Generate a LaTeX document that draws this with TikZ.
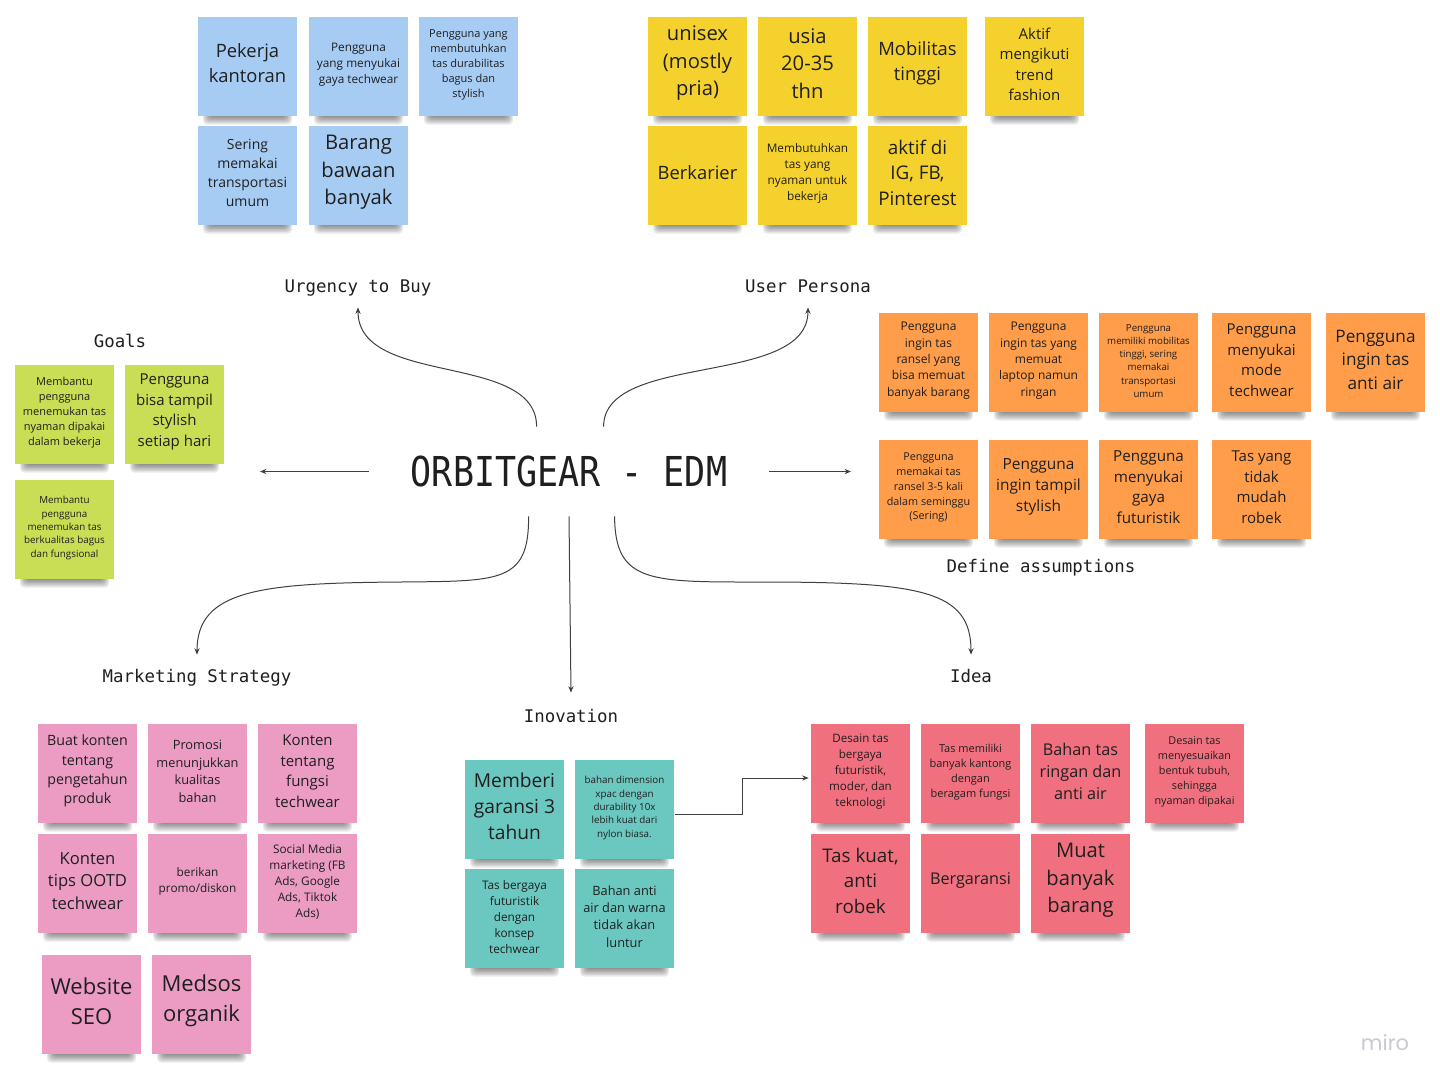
\documentclass[tikz,border=0pt]{standalone}
\usepackage{fontspec}
\usepackage{graphicx}
\setmainfont{Open Sans}
\newfontfamily\monof{DejaVu Sans Mono}
\newfontfamily\logof{Poppins}
\usetikzlibrary{arrows.meta,calc}
\definecolor{stblue}{HTML}{A7CCF4}
\definecolor{styellow}{HTML}{F5D12E}
\definecolor{stgreen}{HTML}{C9DE55}
\definecolor{storange}{HTML}{FF9D4A}
\definecolor{stpink}{HTML}{EC9CC3}
\definecolor{stteal}{HTML}{6BC8C1}
\definecolor{stred}{HTML}{F1707F}
\definecolor{txt}{HTML}{1F1F1F}
\definecolor{miro}{HTML}{C9C9D6}
\tikzset{
  sticky/.style={minimum width=49.5pt,minimum height=49.5pt,inner sep=0pt},
  stext/.style={inner sep=0pt,align=center,text=txt},
  lbl/.style={font=\monof\fontsize{8.7}{10}\selectfont,inner sep=0pt,text height=6.5pt,text depth=2pt,text=txt},
  conn/.style={draw=black!75,line width=0.5pt,-{Stealth[length=3.2pt,width=2.6pt]}},
  stshadow/.style={fill=black,opacity=0.085,rounded corners=2pt}
}
% #1 name, #2 left, #3 top, #4 colour, #5 size, #6 skip, #7 text
\newcommand\stk[7]{%
  \foreach \k in {0,...,5}{\path[stshadow] (#2+11-\k*1.2,#3+92) rectangle (#2+88+\k*1.2,#3+100+\k*1.5);}
  \node[sticky,fill=#4] (#1) at (#2+49.5,#3+49.5) {};
  \node[stext,font=\fontsize{#5}{#6}\selectfont] (#1t) at ([yshift=#5*0.16pt]#1.center) {#7};
}
\begin{document}
\begin{tikzpicture}[x=0.5pt,y=-0.5pt]
\fill[white] (0,0) rectangle (1440,1084);
\useasboundingbox (0,0) rectangle (1440,1084);

% Blue
\stk{b1}{198}{17}{stblue}{9.2}{12.5}{Pekerja\\kantoran}
\stk{b2}{309}{17}{stblue}{5.9}{8}{Pengguna\\yang menyukai\\gaya techwear}
\stk{b3}{419}{17}{stblue}{5.5}{7.5}{Pengguna yang\\membutuhkan\\tas durabilitas\\bagus dan\\stylish}
\stk{b4}{198}{126}{stblue}{7}{9.5}{Sering\\memakai\\transportasi\\umum}
\stk{b5}{309}{126}{stblue}{10.1}{13.75}{Barang\\bawaan\\banyak}

% Yellow
\stk{y1}{648}{17}{styellow}{10.1}{13.75}{unisex\\(mostly\\pria)}
\stk{y2}{758}{17}{styellow}{10.1}{13.75}{usia\\20-35\\thn}
\stk{y3}{868}{17}{styellow}{9.2}{12.5}{Mobilitas\\tinggi}
\stk{y4}{985}{17}{styellow}{7.5}{10.25}{Aktif\\mengikuti\\trend\\fashion}
\stk{y5}{648}{126}{styellow}{9.2}{12.5}{Berkarier}
\stk{y6}{758}{126}{styellow}{5.9}{8}{Membutuhkan\\tas yang\\nyaman untuk\\bekerja}
\stk{y7}{868}{126}{styellow}{9.4}{12.75}{aktif di\\IG, FB,\\Pinterest}

% Green
\stk{g1}{15}{365}{stgreen}{5.5}{7.5}{Membantu\\pengguna\\menemukan tas\\nyaman dipakai\\dalam bekerja}
\stk{g2}{125}{365}{stgreen}{7.5}{10.25}{Pengguna\\bisa tampil\\stylish\\setiap hari}
\stk{g3}{15}{480}{stgreen}{4.9}{6.65}{Membantu\\pengguna\\menemukan tas\\berkualitas bagus\\dan fungsional}

% Orange
\stk{o1}{879}{313}{storange}{6}{8.15}{Pengguna\\ingin tas\\ransel yang\\bisa memuat\\banyak barang}
\stk{o2}{989}{313}{storange}{6}{8.15}{Pengguna\\ingin tas yang\\memuat\\laptop namun\\ringan}
\stk{o3}{1099}{313}{storange}{4.85}{6.6}{Pengguna\\memiliki mobilitas\\tinggi, sering\\memakai\\transportasi\\umum}
\stk{o4}{1212}{313}{storange}{7.5}{10.25}{Pengguna\\menyukai\\mode\\techwear}
\stk{o5}{1326}{313}{storange}{8.6}{11.75}{Pengguna\\ingin tas\\anti air}
\stk{o6}{879}{440}{storange}{5.4}{7.35}{Pengguna\\memakai tas\\ransel 3-5 kali\\dalam seminggu\\(Sering)}
\stk{o7}{989}{440}{storange}{7.7}{10.5}{Pengguna\\ingin tampil\\stylish}
\stk{o8}{1099}{440}{storange}{7.6}{10.35}{Pengguna\\menyukai\\gaya\\futuristik}
\stk{o9}{1212}{440}{storange}{7.5}{10.25}{Tas yang\\tidak\\mudah\\robek}

% Pink
\stk{p1}{38}{724}{stpink}{7.1}{9.65}{Buat konten\\tentang\\pengetahun\\produk}
\stk{p2}{148}{724}{stpink}{6.4}{8.75}{Promosi\\menunjukkan\\kualitas\\bahan}
\stk{p3}{258}{724}{stpink}{7.5}{10.25}{Konten\\tentang\\fungsi\\techwear}
\stk{p4}{38}{834}{stpink}{8.3}{11.35}{Konten\\tips OOTD\\techwear}
\stk{p5}{148}{834}{stpink}{5.9}{8}{berikan\\promo/diskon}
\stk{p6}{258}{834}{stpink}{5.9}{8}{Social Media\\marketing (FB\\Ads, Google\\Ads, Tiktok\\Ads)}
\stk{p7}{42}{955}{stpink}{11}{15}{Website\\SEO}
\stk{p8}{152}{955}{stpink}{11}{15}{Medsos\\organik}

% Teal
\stk{t1}{465}{760}{stteal}{9.6}{13}{Memberi\\garansi 3\\tahun}
\stk{t2}{575}{760}{stteal}{4.9}{6.65}{bahan dimension\\xpac dengan\\durability 10x\\lebih kuat dari\\nylon biasa.}
\stk{t3}{465}{869}{stteal}{5.9}{8}{Tas bergaya\\futuristik\\dengan\\konsep\\techwear}
\stk{t4}{575}{869}{stteal}{6.4}{8.65}{Bahan anti\\air dan warna\\tidak akan\\luntur}

% Red
\stk{r1}{811}{724}{stred}{5.8}{7.9}{Desain tas\\bergaya\\futuristik,\\moder, dan\\teknologi}
\stk{r2}{921}{724}{stred}{5.5}{7.5}{Tas memiliki\\banyak kantong\\dengan\\beragam fungsi}
\stk{r3}{1031}{724}{stred}{8.1}{11}{Bahan tas\\ringan dan\\anti air}
\stk{r4}{1145}{724}{stred}{5.4}{7.4}{Desain tas\\menyesuaikan\\bentuk tubuh,\\sehingga\\nyaman dipakai}
\stk{r5}{811}{834}{stred}{9.4}{12.75}{Tas kuat,\\anti\\robek}
\stk{r6}{921}{834}{stred}{8.1}{11}{Bergaransi}
\stk{r7}{1031}{834}{stred}{10.1}{13.75}{Muat\\banyak\\barang}

% Labels
\node[lbl] (urg) at (358,288) {Urgency to Buy};
\node[lbl] (up) at (808,288) {User Persona};
\node[lbl] (goals) at (120,343) {Goals};
\node[lbl] (defa) at (1041,568) {Define assumptions};
\node[lbl] (mkt) at (197,678) {Marketing Strategy};
\node[lbl] (inov) at (571,718) {Inovation};
\node[lbl] (idea) at (971,678) {Idea};

% Centre
\node[minimum width=200pt,minimum height=44.5pt,inner sep=0pt,text=txt,
      font=\monof\fontsize{20.6}{24}\selectfont] (center) at (569,471.5)
      {\scalebox{0.85}[1]{ORBITGEAR - EDM}};

\coordinate (lt) at (260,471.5);
\coordinate (rt) at (851,471.5);

% Connectors
\draw[conn] ($(center.north west)+(168,0)$) .. controls +(0,-75) and +(0,80) .. ($(urg.south)+(0,10.5)$);
\draw[conn] ($(center.north west)+(235,0)$) .. controls +(0,-75) and +(0,80) .. ($(up.south)+(0,10.5)$);
\draw[conn] (center.west) -- (lt);
\draw[conn] (center.east) -- (rt);
\draw[conn] ($(center.south west)+(160,0)$) .. controls (529,583) and (500,581) .. (400,582)
            .. controls (260,583) and (197,590) .. ($(mkt.north)+(0,-14.5)$);
\draw[conn] (center.south) -- ($(inov.north)+(0,-16.5)$);
\draw[conn] ($(center.south west)+(246,0)$) .. controls (615,583) and (650,582) .. (760,582)
            .. controls (920,582) and (971,590) .. ($(idea.north)+(0,-14.5)$);
\draw[conn] ($(t2.east)+(1,4.5)$) -- ++(67,0) |- ($(r1.west)+(-2,4.5)$);

% Logo
\node[font=\logof\fontsize{10.5}{12}\selectfont,text=miro,inner sep=0pt] (logo) at (1385,1043) {miro};
\end{tikzpicture}
\end{document}
